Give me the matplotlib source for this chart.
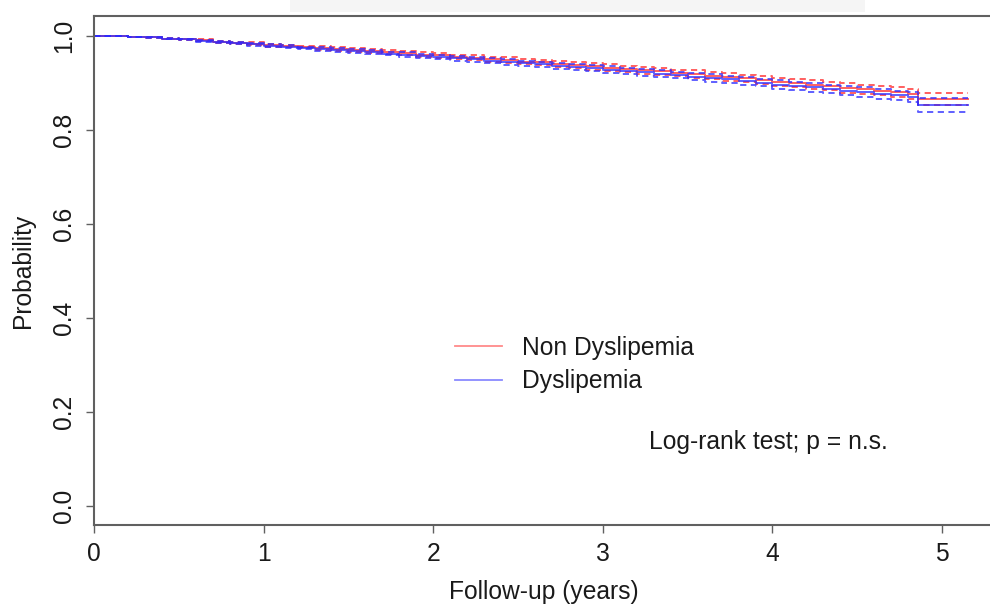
import matplotlib
matplotlib.use("Agg")
import matplotlib.pyplot as plt
from matplotlib.lines import Line2D
from matplotlib.patches import Rectangle

plt.rcParams['font.family'] = ['Liberation Sans', 'DejaVu Sans']

# ---- data ----
times = [0.0, 0.2, 0.3, 0.4, 0.5, 0.6, 0.7, 0.8, 0.9, 1.0,
         1.1, 1.2, 1.3, 1.4, 1.5, 1.6, 1.7, 1.8, 1.9, 2.0,
         2.1, 2.2, 2.3, 2.4, 2.5, 2.6, 2.7, 2.8, 2.9, 3.0,
         3.1, 3.2, 3.3, 3.4, 3.5, 3.6, 3.7, 3.8, 3.9, 4.0,
         4.1, 4.2, 4.3, 4.4, 4.5, 4.6, 4.7, 4.8, 4.86, 5.15]

non_est = [1.000, 0.999, 0.998, 0.995, 0.993, 0.991, 0.988, 0.986, 0.984, 0.981,
           0.979, 0.977, 0.975, 0.973, 0.970, 0.968, 0.966, 0.964, 0.961, 0.959,
           0.956, 0.954, 0.951, 0.949, 0.946, 0.944, 0.941, 0.938, 0.936, 0.933,
           0.930, 0.927, 0.925, 0.922, 0.919, 0.916, 0.913, 0.910, 0.907, 0.903,
           0.900, 0.897, 0.894, 0.890, 0.887, 0.884, 0.881, 0.877, 0.867, 0.867]
non_lo = [1.000, 0.999, 0.997, 0.994, 0.991, 0.989, 0.986, 0.984, 0.981, 0.978,
          0.976, 0.974, 0.971, 0.969, 0.966, 0.964, 0.962, 0.959, 0.956, 0.954,
          0.951, 0.949, 0.946, 0.943, 0.940, 0.938, 0.935, 0.932, 0.929, 0.926,
          0.923, 0.920, 0.918, 0.915, 0.911, 0.908, 0.905, 0.902, 0.899, 0.894,
          0.891, 0.888, 0.885, 0.880, 0.877, 0.874, 0.871, 0.866, 0.854, 0.854]
non_hi = [1.000, 0.999, 0.999, 0.996, 0.995, 0.993, 0.990, 0.988, 0.987, 0.984,
          0.982, 0.980, 0.979, 0.977, 0.974, 0.972, 0.970, 0.969, 0.966, 0.964,
          0.961, 0.959, 0.956, 0.955, 0.952, 0.950, 0.947, 0.944, 0.943, 0.940,
          0.937, 0.934, 0.932, 0.929, 0.927, 0.924, 0.921, 0.918, 0.915, 0.912,
          0.909, 0.906, 0.903, 0.900, 0.897, 0.894, 0.891, 0.888, 0.880, 0.880]

dys_est = [1.000, 0.999, 0.998, 0.995, 0.993, 0.990, 0.988, 0.985, 0.983, 0.980,
           0.978, 0.975, 0.973, 0.971, 0.968, 0.966, 0.963, 0.961, 0.958, 0.956,
           0.953, 0.951, 0.948, 0.945, 0.942, 0.940, 0.937, 0.934, 0.932, 0.929,
           0.926, 0.923, 0.920, 0.917, 0.914, 0.911, 0.908, 0.905, 0.901, 0.897,
           0.894, 0.891, 0.888, 0.884, 0.881, 0.877, 0.874, 0.870, 0.853, 0.853]
dys_lo = [1.000, 0.999, 0.997, 0.994, 0.991, 0.988, 0.986, 0.983, 0.980, 0.977,
          0.975, 0.972, 0.969, 0.967, 0.964, 0.962, 0.959, 0.956, 0.953, 0.951,
          0.948, 0.946, 0.943, 0.939, 0.936, 0.934, 0.931, 0.928, 0.925, 0.922,
          0.919, 0.916, 0.913, 0.910, 0.906, 0.903, 0.900, 0.897, 0.893, 0.888,
          0.885, 0.882, 0.879, 0.874, 0.871, 0.867, 0.864, 0.859, 0.838, 0.838]
dys_hi = [1.000, 0.999, 0.999, 0.996, 0.995, 0.992, 0.990, 0.987, 0.986, 0.983,
          0.981, 0.978, 0.977, 0.975, 0.972, 0.970, 0.967, 0.966, 0.963, 0.961,
          0.958, 0.956, 0.953, 0.951, 0.948, 0.946, 0.943, 0.940, 0.939, 0.936,
          0.933, 0.930, 0.927, 0.924, 0.922, 0.919, 0.916, 0.913, 0.909, 0.906,
          0.903, 0.900, 0.897, 0.894, 0.891, 0.887, 0.884, 0.881, 0.868, 0.868]

series_labels = ["Non Dyslipemia", "Dyslipemia"]
xticks = [0, 1, 2, 3, 4, 5]
yticks = [0.0, 0.2, 0.4, 0.6, 0.8, 1.0]
ytick_labels = ["0.0", "0.2", "0.4", "0.6", "0.8", "1.0"]
annotation = "Log-rank test; p = n.s."

# ---- styles ----
RED = '#ff2a2a'
BLUE = '#2a2aff'
AX_COL = '#606060'
TXT = '#1a1a1a'
FS = 17.7

fig = plt.figure(figsize=(9.9, 6.08), dpi=100)
fig.patches.append(Rectangle((290 / 990, 1 - 12 / 608), (865 - 290) / 990, 12 / 608,
                             transform=fig.transFigure, facecolor='#f5f5f5',
                             edgecolor='none', zorder=0))
ax = fig.add_axes([94 / 990, 1 - 525 / 608, 899 / 990, (525 - 16) / 608])

dash = (3.2, 2.3)
for est, lo, hi, col in [(non_est, non_lo, non_hi, RED), (dys_est, dys_lo, dys_hi, BLUE)]:
    ax.plot(times, est, drawstyle='steps-post', color=col, lw=1.4, alpha=0.75)
    ax.plot(times, lo, drawstyle='steps-post', color=col, lw=1.4, alpha=0.75, dashes=dash)
    ax.plot(times, hi, drawstyle='steps-post', color=col, lw=1.4, alpha=0.75, dashes=dash)

ax.set_xlim(0, 5.30)
ax.set_ylim(-0.041, 1.043)

ax.set_xticks(xticks)
ax.set_xticklabels([str(t) for t in xticks], fontsize=FS)
ax.set_yticks(yticks)
ax.set_yticklabels(ytick_labels, fontsize=FS, rotation=90, va='center')
ax.tick_params(axis='both', length=6, width=1.0, color=AX_COL, labelcolor=TXT)
ax.tick_params(axis='x', pad=6)
ax.tick_params(axis='y', pad=7)

for s in ax.spines.values():
    s.set_color(AX_COL)
    s.set_linewidth(1.5)

ax.set_xlabel("Follow-up (years)", fontsize=FS, color=TXT, labelpad=10)
ax.set_ylabel("Probability", fontsize=FS, color=TXT, labelpad=12)

handles = [Line2D([], [], color=RED, lw=1.3, alpha=0.55),
           Line2D([], [], color=BLUE, lw=1.3, alpha=0.55)]
ax.legend(handles, series_labels, loc='upper left', bbox_to_anchor=(2.13, 0.362),
          bbox_transform=ax.transData, frameon=False, fontsize=FS,
          handlelength=1.9, handletextpad=0.8, labelspacing=0.38,
          borderpad=0, borderaxespad=0, labelcolor=TXT)

ax.text(3.27, 0.136, annotation, fontsize=FS, color=TXT, ha='left', va='center')

fig.savefig('out.png', dpi=100)
